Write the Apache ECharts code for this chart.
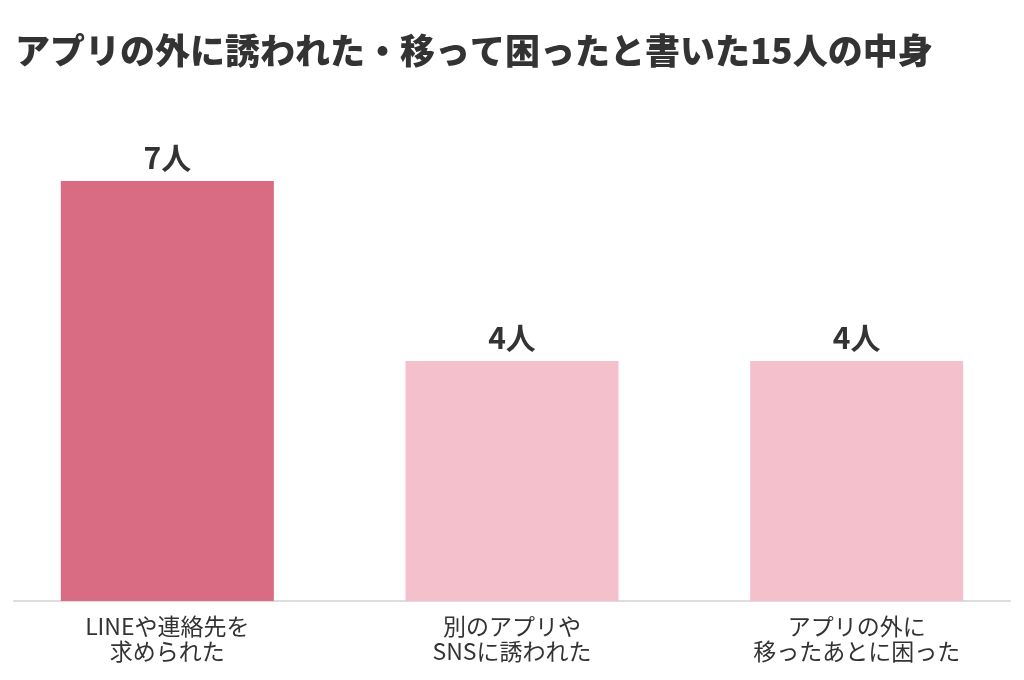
<!DOCTYPE html>
<html><head><meta charset="utf-8">
<script src="https://cdn.jsdelivr.net/npm/echarts@6/dist/echarts.min.js"></script>
<style>html,body{margin:0;padding:0;background:#fff}#c{width:1024px;height:680px}</style>
</head><body><div id="c"></div>
<script>
const titleText = 'アプリの外に誘われた・移って困ったと書いた15人の中身';
const categories = ['LINEや連絡先を\n求められた', '別のアプリや\nSNSに誘われた', 'アプリの外に\n移ったあとに困った'];
const values = [7, 4, 4];
const unit = '人';
const barColors = ['#d96b82', '#f4c0cc', '#f4c0cc'];

const font = '"Noto Sans CJK JP", "Noto Sans", sans-serif';
const chart = echarts.init(document.getElementById('c'));
chart.setOption({
  animation: false,
  title: {
    text: titleText, left: 10, top: 28,
    textStyle: { fontFamily: font, fontSize: 35, fontWeight: 900, color: '#333' }
  },
  grid: [
    { left: -5, right: -5, top: 121, bottom: 79, outerBoundsMode: 'none', containLabel: false },
    { left: 14, right: 14, top: 121, bottom: 79, outerBoundsMode: 'none', containLabel: false }
  ],
  xAxis: [
    {
      gridIndex: 0, type: 'category', data: categories,
      axisLine: { show: false }, axisTick: { show: false },
      axisLabel: { fontFamily: font, fontSize: 23, color: '#333', lineHeight: 25, margin: 13, interval: 0 }
    },
    {
      gridIndex: 1, type: 'category', data: categories,
      axisLine: { show: true, lineStyle: { color: '#dddddd', width: 2 } },
      axisTick: { show: false }, axisLabel: { show: false }
    }
  ],
  yAxis: [
    { gridIndex: 0, type: 'value', min: 0, max: 8, show: false, splitLine: { show: false } },
    { gridIndex: 1, type: 'value', min: 0, max: 8, show: false, splitLine: { show: false } }
  ],
  series: [{
    type: 'bar', xAxisIndex: 0, yAxisIndex: 0,
    barWidth: 213,
    data: values.map((v, i) => ({ value: v, itemStyle: { color: barColors[i] } })),
    label: {
      show: true, position: 'top', distance: 8,
      formatter: p => p.value + unit,
      fontFamily: font, fontSize: 30, fontWeight: 'bold', color: '#333'
    }
  }]
});
</script></body></html>
